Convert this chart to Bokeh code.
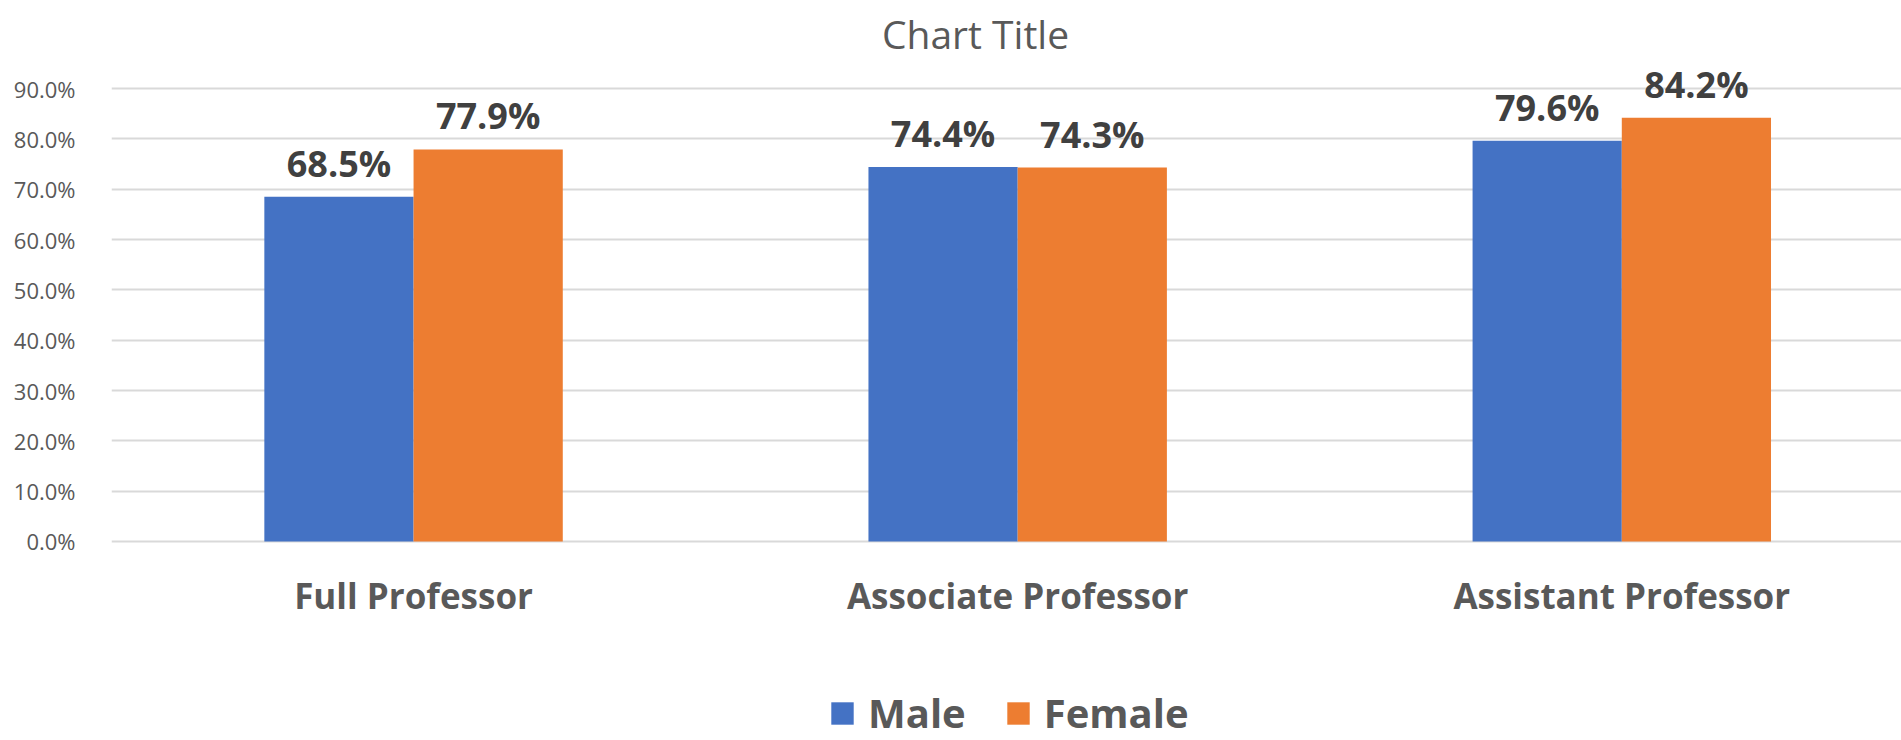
from bokeh.plotting import figure
from bokeh.models import (ColumnDataSource, LabelSet, Label, Legend, LegendItem,
                          FixedTicker, NumeralTickFormatter, Range1d)
from bokeh.core.properties import value
from bokeh.embed import file_html
from bokeh.resources import INLINE

# ---- data ----
categories = ["Full Professor", "Associate Professor", "Assistant Professor"]
male = [0.685, 0.744, 0.796]
female = [0.779, 0.743, 0.842]
series_names = ["Male", "Female"]
y_ticks = [0.0, 0.1, 0.2, 0.3, 0.4, 0.5, 0.6, 0.7, 0.8, 0.9]
title_text = "Chart Title"

BLUE = "#4472C4"
ORANGE = "#ED7D31"
FONT = "Open Sans"

centers = [i + 0.5 for i in range(len(categories))]
bar_w = 0.247

src_m = ColumnDataSource(dict(x=[c - bar_w / 2 for c in centers], top=male,
                              lab=[f"{v*100:.1f}%" for v in male]))
src_f = ColumnDataSource(dict(x=[c + bar_w / 2 for c in centers], top=female,
                              lab=[f"{v*100:.1f}%" for v in female]))
src_c = ColumnDataSource(dict(x=centers, y=[0.0] * len(categories), name=categories))

# frame spans the full height: y = 0 sits 199 px above the bottom edge
p = figure(width=1901, height=740, output_backend="svg", toolbar_location=None,
           x_range=Range1d(0, 2.963), y_range=Range1d(-0.3954, 1.0749),
           min_border_left=111, min_border_right=0, min_border_top=0,
           min_border_bottom=0)
p.outline_line_color = None
p.background_fill_color = "white"
p.border_fill_color = "white"

r_m = p.vbar(x="x", top="top", width=bar_w, source=src_m, fill_color=BLUE, line_color=None)
r_f = p.vbar(x="x", top="top", width=bar_w, source=src_f, fill_color=ORANGE, line_color=None)

for src in (src_m, src_f):
    p.add_layout(LabelSet(x="x", y="top", text="lab", source=src, text_align="center",
                          text_baseline="alphabetic", y_offset=20,
                          text_font=value(FONT), text_font_style="bold",
                          text_font_size="36px", text_color="#404040"))

# category labels under the bars
p.add_layout(LabelSet(x="x", y="y", text="name", source=src_c, text_align="center",
                      text_baseline="alphabetic", y_offset=-68,
                      text_font=value(FONT), text_font_style="bold",
                      text_font_size="35px", text_color="#595959"))
p.xaxis.visible = False

p.yaxis.ticker = FixedTicker(ticks=y_ticks)
p.yaxis.formatter = NumeralTickFormatter(format="0.0%")
p.yaxis.major_label_text_font = FONT
p.yaxis.major_label_text_font_size = "22px"
p.yaxis.major_label_text_color = "#595959"
p.yaxis.major_label_standoff = 30
p.yaxis.axis_line_color = None
p.yaxis.major_tick_line_color = None
p.yaxis.minor_tick_line_color = None

p.xgrid.grid_line_color = None
p.ygrid.ticker = FixedTicker(ticks=y_ticks)
p.ygrid.grid_line_color = "#d9d9d9"
p.ygrid.grid_line_width = 2

# title
p.add_layout(Label(x=864, y=707, x_units="screen", y_units="screen", text=title_text,
                   text_align="center", text_baseline="middle", text_font=FONT,
                   text_font_size="39px", text_color="#595959"))

legend = Legend(items=[LegendItem(label=series_names[0], renderers=[r_m]),
                       LegendItem(label=series_names[1], renderers=[r_f])],
                location=(717, 0), orientation="horizontal",
                glyph_width=28, glyph_height=28, label_standoff=12, spacing=38,
                padding=0, margin=0, border_line_color=None, background_fill_alpha=0,
                label_text_font=FONT, label_text_font_style="bold",
                label_text_font_size="40px", label_text_color="#595959")
p.add_layout(legend, "center")

open("out.html", "w").write(file_html(p, INLINE))
